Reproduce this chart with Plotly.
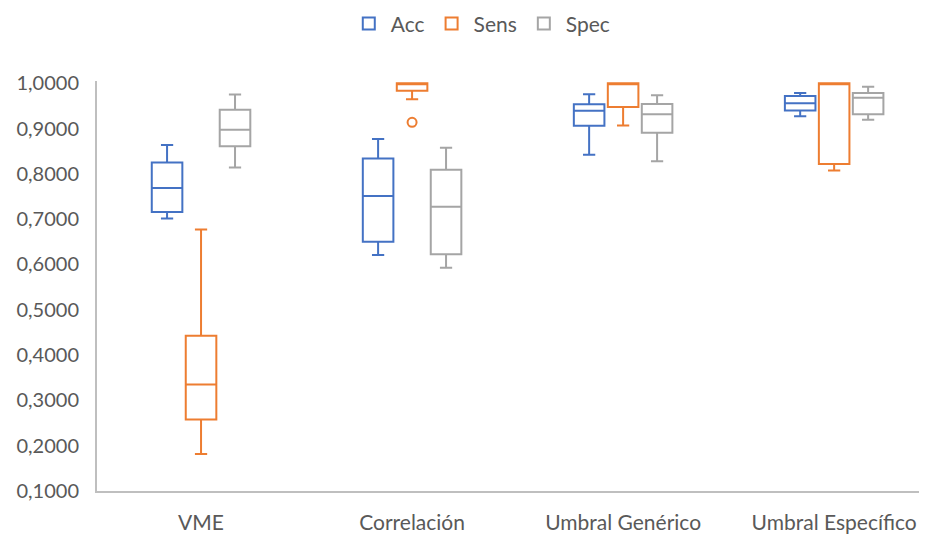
import plotly.graph_objects as go

categories = ["VME", "Correlación", "Umbral Genérico", "Umbral Específico"]

acc_lower = [0.7014, 0.621, 0.842, 0.927]
acc_q1 = [0.716, 0.650, 0.9063, 0.940]
acc_median = [0.769, 0.751, 0.9394, 0.9558]
acc_q3 = [0.8253, 0.834, 0.9535, 0.972]
acc_upper = [0.8636, 0.8768, 0.9756, 0.9786]

sens_lower = [0.1818, 0.9646, 0.907, 0.8076]
sens_q1 = [0.2576, 0.9836, 0.9476, 0.822]
sens_median = [0.335, 1.0, 1.0, 1.0]
sens_q3 = [0.4427, 1.0, 1.0, 1.0]
sens_upper = [0.677, 1.0, 1.0, 1.0]

spec_lower = [0.8142, 0.593, 0.828, 0.9195]
spec_q1 = [0.8607, 0.6225, 0.8908, 0.9314]
spec_median = [0.8974, 0.7272, 0.9314, 0.968]
spec_q3 = [0.9417, 0.809, 0.9542, 0.9786]
spec_upper = [0.975, 0.8576, 0.9735, 0.9925]

sens_outlier_cats = ["Correlación"]
sens_outlier_vals = [0.9138]

y_tickvals = [0.1, 0.2, 0.3, 0.4, 0.5, 0.6, 0.7, 0.8, 0.9, 1.0]

series = [
    ("Acc", "#4472C4", acc_lower, acc_q1, acc_median, acc_q3, acc_upper),
    ("Sens", "#ED7D31", sens_lower, sens_q1, sens_median, sens_q3, sens_upper),
    ("Spec", "#A5A5A5", spec_lower, spec_q1, spec_median, spec_q3, spec_upper),
]

fig = go.Figure()
for name, color, lo, q1, med, q3, up in series:
    fig.add_trace(go.Box(
        name=name, x=categories, q1=q1, median=med, q3=q3,
        lowerfence=lo, upperfence=up,
        line=dict(color=color, width=2), fillcolor="white",
        whiskerwidth=0.4, boxpoints=False,
    ))

fig.add_trace(go.Scatter(
    x=sens_outlier_cats, y=sens_outlier_vals, mode="markers",
    marker=dict(symbol="circle-open", size=9, color="#ED7D31", line=dict(width=2)),
    showlegend=False, hoverinfo="y",
))

# page body has an 8px margin, so the figure is sized to fit the 927x534 window
fig.update_layout(
    width=919, height=526,
    margin=dict(l=89, r=0, t=73, b=43, autoexpand=False),
    paper_bgcolor="white", plot_bgcolor="white",
    boxmode="group", boxgap=0.517, boxgroupgap=0.1,
    separators=",.",
    font=dict(family="Lato, Open Sans, sans-serif", size=20, color="#595959"),
    legend=dict(orientation="h", xref="container", x=0.515, xanchor="center",
                yref="container", y=0.97, yanchor="middle",
                font=dict(size=21, color="#595959"), itemwidth=34),
    xaxis=dict(type="category", range=[-0.493, 3.44], showgrid=False,
               automargin=False,
               showline=True, linecolor="#BFBFBF", linewidth=2,
               ticks="outside", ticklen=12, tickcolor="rgba(0,0,0,0)",
               tickfont=dict(size=21, color="#595959")),
    yaxis=dict(range=[0.1, 1.005], tickvals=y_tickvals, tickformat=".4f",
               showgrid=False, zeroline=False, automargin=False,
               showline=True, linecolor="#BFBFBF", linewidth=2,
               ticks="outside", ticklen=12, tickcolor="rgba(0,0,0,0)",
               tickfont=dict(size=20, color="#595959")),
)

fig.write_html("out.html")
